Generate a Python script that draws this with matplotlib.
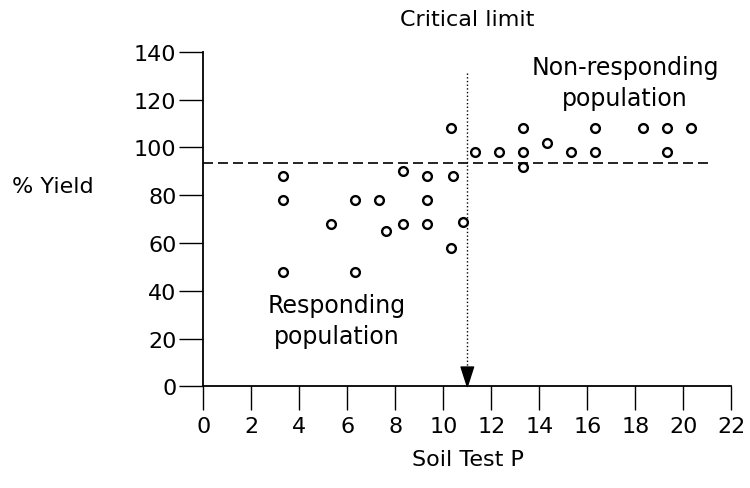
import matplotlib
matplotlib.use('Agg')
import matplotlib.pyplot as plt

# soil test P vs relative yield
soil_p = [3.3, 3.3, 3.3, 5.3, 6.3, 6.3, 7.3, 7.6, 8.3, 8.3, 9.3, 9.3, 9.3,
          10.3, 10.4, 10.3, 10.8,
          11.3, 12.3, 13.3, 13.3, 13.3, 14.3, 15.3, 16.3, 16.3, 18.3, 19.3, 19.3, 20.3]
yield_pct = [88, 78, 48, 68, 78, 48, 78, 65, 90, 68, 88, 78, 68,
             108, 88, 58, 69,
             98, 98, 108, 98, 92, 102, 98, 108, 98, 108, 108, 98, 108]

critical_p = 11
critical_yield = 93.5
dash_end = 21.1
arrow_top = 131

x_ticks = list(range(0, 23, 2))
y_ticks = list(range(0, 141, 20))

plt.rcParams['font.family'] = ['DejaVu Sans']
plt.rcParams['font.size'] = 16

fig = plt.figure(figsize=(7.5, 4.89), dpi=100)
ax = fig.add_axes([0.2711, 0.2076, 0.704, 0.6843])

ax.plot(soil_p, yield_pct, 'o', markersize=6.3, markerfacecolor='white',
        markeredgecolor='black', markeredgewidth=1.7, zorder=3)

# critical yield line and critical limit arrow
ax.plot([0, dash_end], [critical_yield, critical_yield], color='black', lw=1.2, dashes=(6, 3))
ax.plot([critical_p, critical_p], [arrow_top, 8], color='black', lw=1, linestyle=':')
ax.annotate('', xy=(critical_p, 0), xytext=(critical_p, 8),
            arrowprops=dict(facecolor='black', edgecolor='black', width=0.1,
                            headwidth=9, headlength=14), annotation_clip=False)

ax.text(critical_p, 153.7, 'Critical limit', ha='center', va='center', clip_on=False)
ax.text(5.56, 27.5, 'Responding\npopulation', ha='center', va='center',
        fontsize=17, linespacing=1.37)
ax.text(17.57, 127.3, 'Non-responding\npopulation', ha='center', va='center',
        fontsize=17, linespacing=1.37)

ax.set_xlim(0, 22)
ax.set_ylim(0, 140)
ax.set_xticks(x_ticks)
ax.set_yticks(y_ticks)
for s in ['top', 'right']:
    ax.spines[s].set_visible(False)
for s in ['left', 'bottom']:
    ax.spines[s].set_linewidth(1.3)
ax.tick_params(axis='both', direction='out', length=17.3, width=1, labelsize=16)
ax.tick_params(axis='y', pad=2)
ax.tick_params(axis='x', pad=4)

ax.set_xlabel('Soil Test P', va='center')
ax.xaxis.set_label_coords(0.501, -0.217)
ax.set_ylabel('% Yield', rotation=0, ha='left', va='center')
ax.yaxis.set_label_coords(-0.362, 0.599)

fig.savefig('out.png', dpi=100)
